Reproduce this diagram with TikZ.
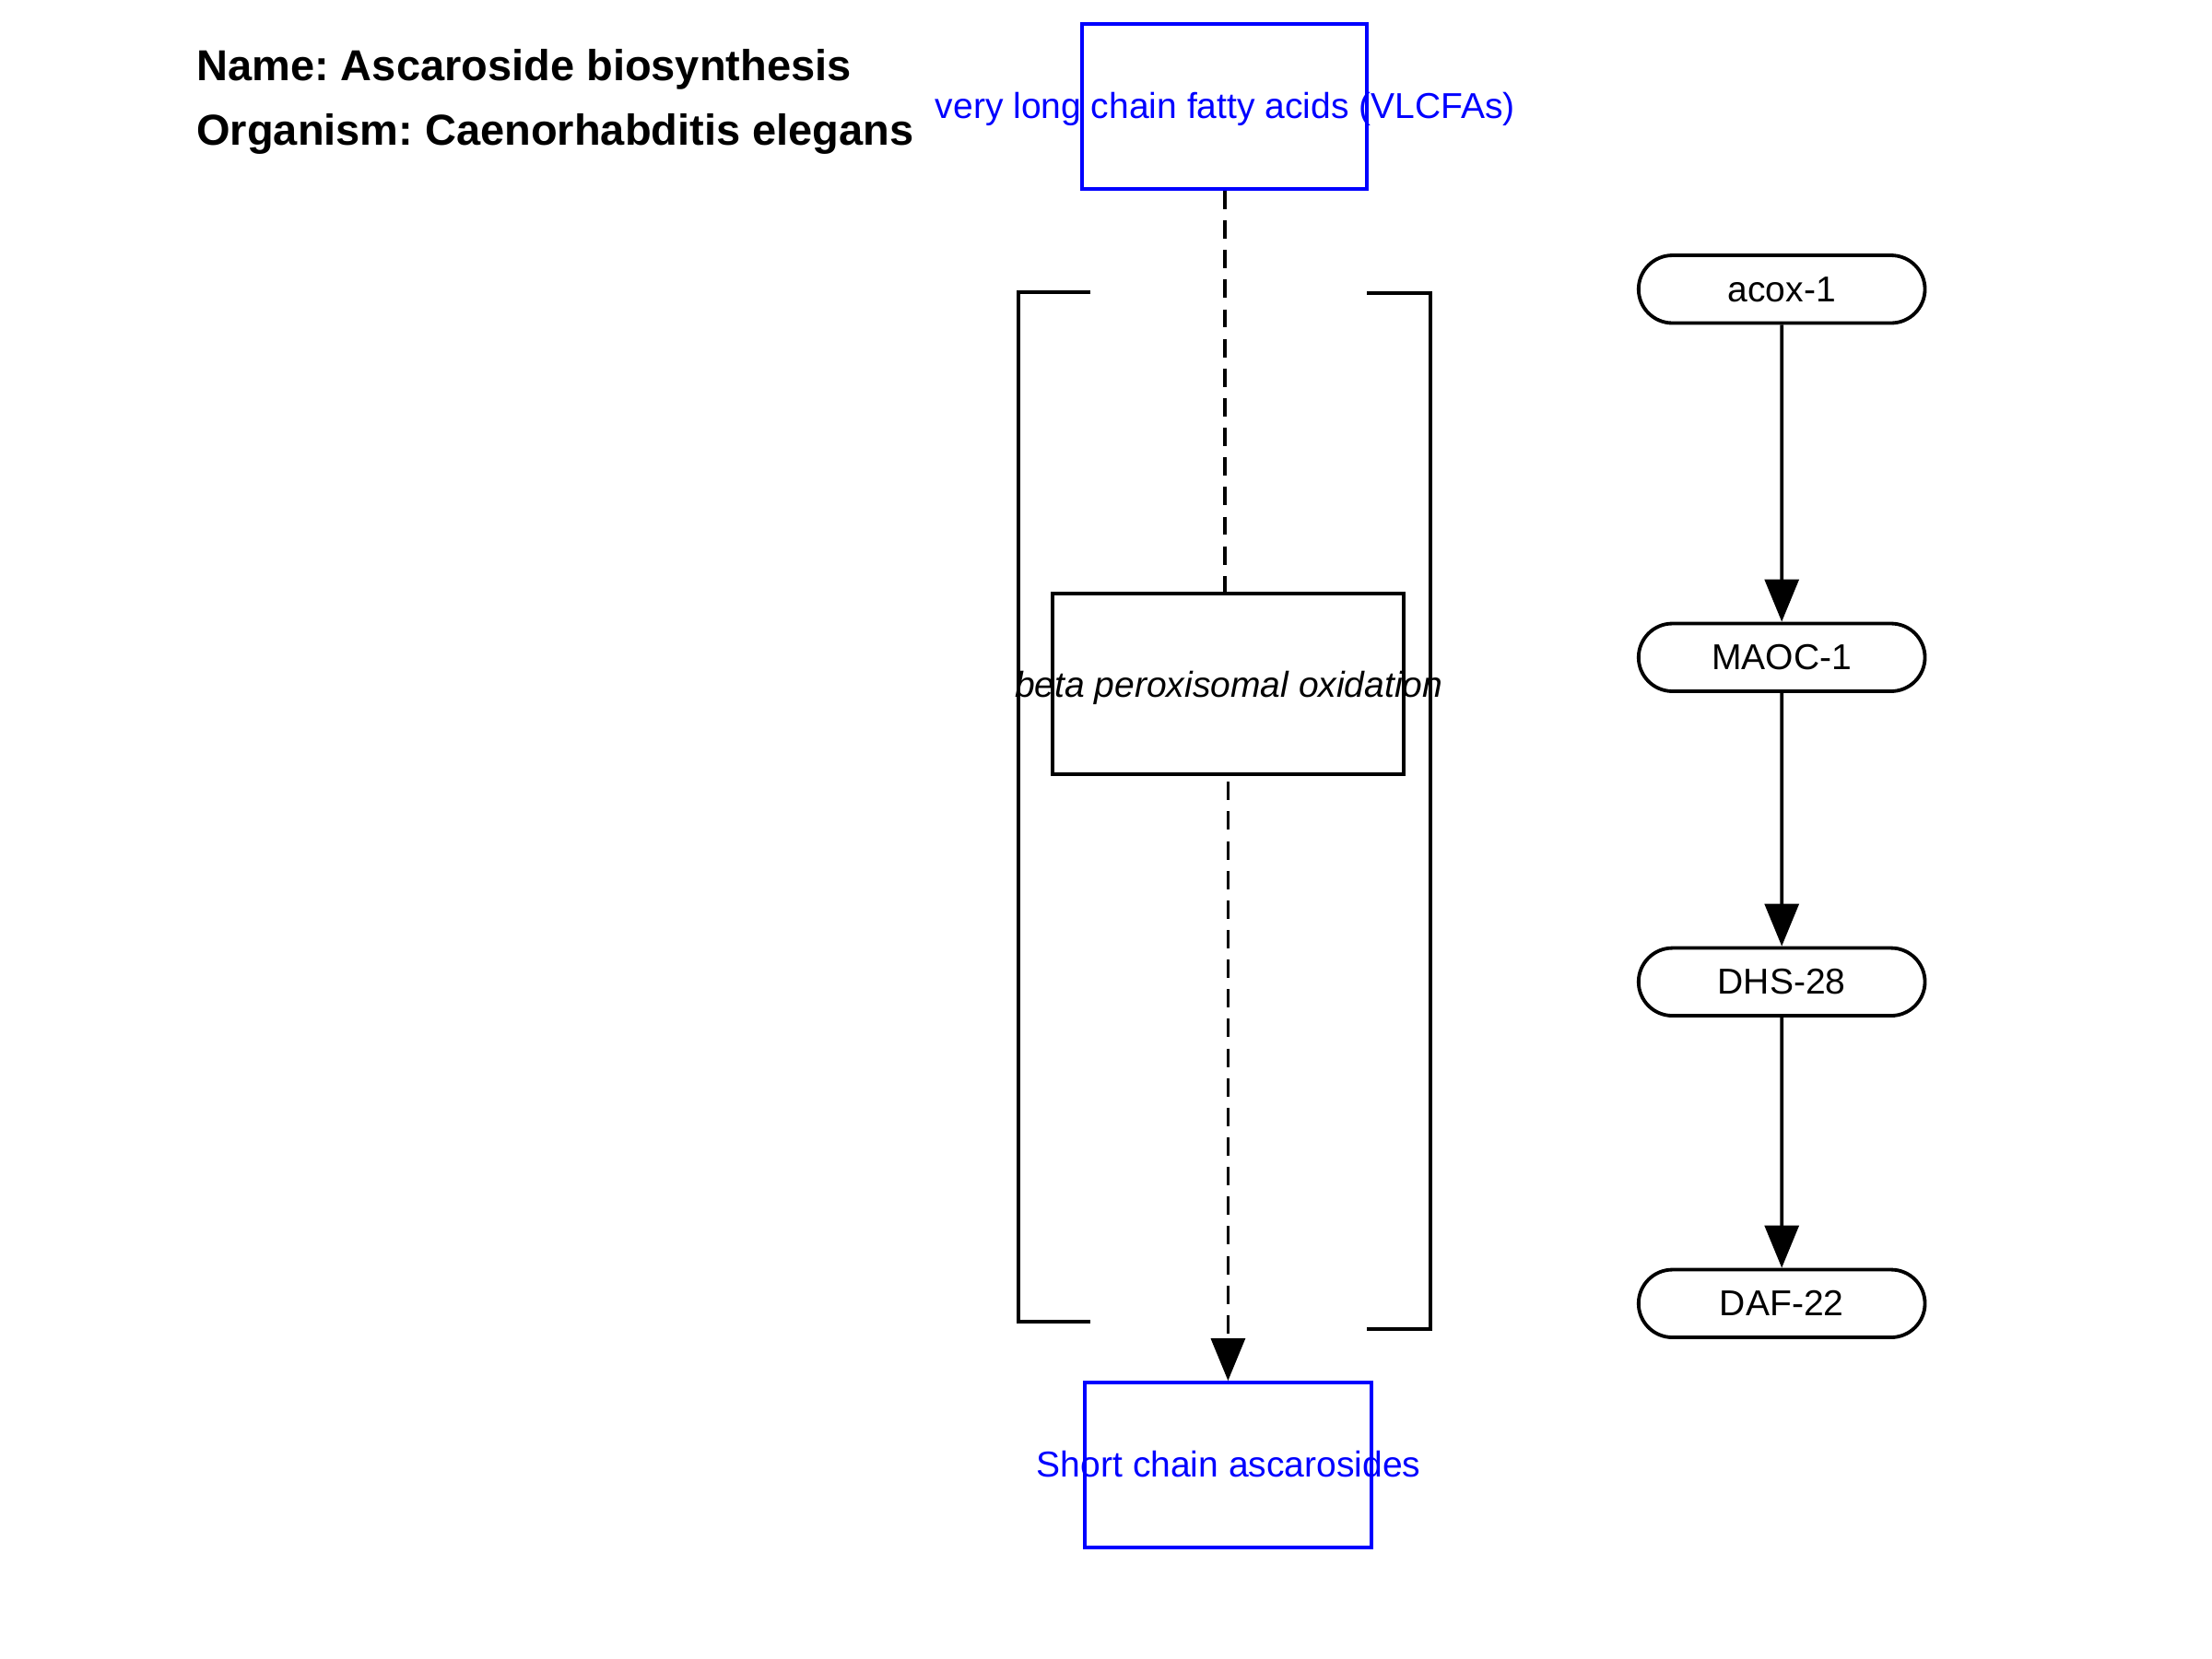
\documentclass[tikz,border=0pt]{standalone}
\usepackage{fontspec}
\setmainfont{Liberation Sans}
\usetikzlibrary{arrows.meta,shapes.misc}
\frenchspacing
\begin{document}
\begin{tikzpicture}[x=0.5pt,y=-0.5pt,
  ln/.style={line width=1.25pt},
  bluebox/.style={draw=blue,line width=1.25pt,inner sep=0pt,minimum width=101pt,minimum height=58.5pt},
  bluelbl/.style={text=blue,font=\fontsize{12.75pt}{15pt}\selectfont,inner sep=0pt,anchor=base},
  procbox/.style={draw=black,line width=1.25pt,inner sep=0pt,minimum width=124.5pt,minimum height=64pt},
  proclbl/.style={font=\fontsize{12.75pt}{15pt}\selectfont\itshape,inner sep=0pt,anchor=base},
  pill/.style={draw,rounded rectangle,line width=1.25pt,minimum width=101.5pt,minimum height=24pt,inner sep=0pt,font=\fontsize{12.75pt}{15pt}\selectfont},
  titl/.style={font=\fontsize{15.35pt}{18pt}\selectfont\bfseries,inner sep=0pt,anchor=base west},
  dashline/.style={line width=1.25pt,dash pattern=on 6.5pt off 4pt},
  arr/.style={-{Triangle[length=15pt,width=12pt]}}
]
\useasboundingbox (0,0) rectangle (1568,1176);
\node[titl] (t1) at (139,57) {Name: Ascaroside biosynthesis};
\node[titl] (t2) at (139,103) {Organism: Caenorhabditis elegans};

\node[bluebox] (vl) at (868,75.5) {};
\node[bluelbl] (vlT) at (868.5,84) {very long chain fatty acids (VLCFAs)};

\node[procbox] (bp) at (870.5,485) {};
\node[proclbl] (bpT) at (871,494) {beta peroxisomal oxidation};

\node[bluebox,minimum width=101.5pt] (sc) at (870.5,1038.5) {};
\node[bluelbl] (scT) at (871,1047) {Short chain ascarosides};

\node[pill] (p1) at (1263,205) {acox-1};
\node[pill] (p2) at (1263,466) {MAOC-1};
\node[pill] (p3) at (1263,696) {DHS-28};
\node[pill] (p4) at (1263,924) {DAF-22};

\draw[dashline] (vl.south) -- (vl.south |- bp.north);
\draw[dashline,arr,shorten <=2pt] (bp.south) -- (sc.north);

\draw[ln] (773,207) -- (722,207) -- (722,937) -- (773,937);
\draw[ln] (969,208) -- (1014,208) -- (1014,942) -- (969,942);

\draw[ln,arr] (p1) -- (p2);
\draw[ln,arr] (p2) -- (p3);
\draw[ln,arr] (p3) -- (p4);
\end{tikzpicture}
\end{document}
